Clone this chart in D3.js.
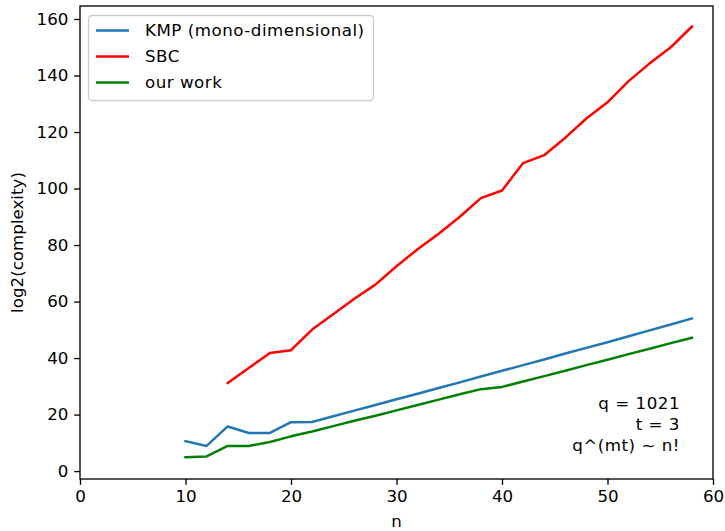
<!DOCTYPE html>
<html>
  <head>
    <meta charset="utf-8" />
    <title>log2 complexity</title>
    <script src="https://d3js.org/d3.v7.min.js"></script>
    <style>
      body { margin: 0; background: #fff; }
      svg { font-family: "DejaVu Sans", sans-serif; }
    </style>
  </head>
  <body>
    <div id="chart"></div>

    <script>
      // Data
      const kmpN = [10, 12, 14, 16, 18, 20, 22, 24, 26, 28, 30, 32, 34, 36, 38, 40, 42, 44, 46, 48, 50, 52, 54, 56, 58];
      const kmpVals = [10.6, 8.9, 15.8, 13.5, 13.5, 17.3, 17.4, 19.4, 21.4, 23.4, 25.4, 27.4, 29.4, 31.4, 33.5, 35.5, 37.5, 39.5, 41.6, 43.6, 45.6, 47.7, 49.8, 51.9, 54.0];
      const sbcN = [14, 16, 18, 20, 22, 24, 26, 28, 30, 32, 34, 36, 38, 40, 42, 44, 46, 48, 50, 52, 54, 56, 58];
      const sbcVals = [31.2, 36.5, 41.8, 42.8, 50.1, 55.5, 61.0, 66.0, 72.5, 78.5, 84.0, 90.0, 96.6, 99.3, 109.0, 111.8, 118.0, 124.8, 130.5, 138.0, 144.3, 150.0, 157.3];
      const oursN = [10, 12, 14, 16, 18, 20, 22, 24, 26, 28, 30, 32, 34, 36, 38, 40, 42, 44, 46, 48, 50, 52, 54, 56, 58];
      const oursVals = [4.9, 5.2, 8.9, 8.9, 10.3, 12.3, 14.0, 15.9, 17.8, 19.6, 21.5, 23.4, 25.3, 27.2, 29.0, 29.8, 31.7, 33.6, 35.5, 37.5, 39.4, 41.4, 43.3, 45.3, 47.2];

      const seriesNames = ["KMP (mono-dimensional)", "SBC", "our work"];
      const seriesColors = ["#1f77b4", "#ff0000", "#008000"];
      const xTicks = [0, 10, 20, 30, 40, 50, 60];
      const yTicks = [0, 20, 40, 60, 80, 100, 120, 140, 160];
      const noteLines = ["q = 1021", "t = 3", "q^(mt) ~ n!"];

      const series = [
        { name: seriesNames[0], color: seriesColors[0], pts: kmpN.map((n, i) => [n, kmpVals[i]]) },
        { name: seriesNames[1], color: seriesColors[1], pts: sbcN.map((n, i) => [n, sbcVals[i]]) },
        { name: seriesNames[2], color: seriesColors[2], pts: oursN.map((n, i) => [n, oursVals[i]]) }
      ];

      const width = 725, height = 531;
      const plotL = 80, plotR = 713, plotT = 6, plotB = 479;
      const fs = 16.7;
      const tick = 5.8;

      const svg = d3.select("#chart").append("svg")
        .attr("width", width).attr("height", height);

      const x = d3.scaleLinear().domain([0, 60]).range([plotL, plotR]);
      const y = d3.scaleLinear().domain([-2.8, 164.6]).range([plotB, plotT]);

      // Axes
      const xAxis = svg.append("g")
        .attr("transform", `translate(0,${plotB})`)
        .call(d3.axisBottom(x).tickValues(xTicks).tickSize(tick).tickSizeOuter(0).tickPadding(5.8));
      const yAxis = svg.append("g")
        .attr("transform", `translate(${plotL},0)`)
        .call(d3.axisLeft(y).tickValues(yTicks).tickSize(tick).tickSizeOuter(0).tickPadding(5.8));
      [xAxis, yAxis].forEach(g => {
        g.select(".domain").remove();
        g.selectAll("line").attr("stroke", "#000").attr("stroke-width", 1.33);
        g.selectAll("text").attr("fill", "#000").style("font-size", fs + "px")
          .style("font-family", "DejaVu Sans, sans-serif");
      });

      // Lines
      const line = d3.line().x(d => x(d[0])).y(d => y(d[1]));
      svg.append("g").selectAll("path").data(series).join("path")
        .attr("d", d => line(d.pts))
        .attr("fill", "none")
        .attr("stroke", d => d.color)
        .attr("stroke-width", 2.5)
        .attr("stroke-linejoin", "round")
        .attr("stroke-linecap", "square");

      // Frame
      svg.append("rect")
        .attr("x", plotL).attr("y", plotT)
        .attr("width", plotR - plotL).attr("height", plotB - plotT)
        .attr("fill", "none").attr("stroke", "#000").attr("stroke-width", 1.33);

      // Axis labels
      svg.append("text")
        .attr("x", (plotL + plotR) / 2).attr("y", 521).attr("dy", "0.35em")
        .attr("text-anchor", "middle").style("font-size", fs + "px").text("n");
      svg.append("text")
        .attr("transform", `translate(17,${(plotT + plotB) / 2}) rotate(-90)`)
        .attr("dy", "0.35em")
        .attr("text-anchor", "middle").style("font-size", fs + "px").text("log2(complexity)");

      // Legend
      const lg = svg.append("g");
      lg.append("rect")
        .attr("x", 88.5).attr("y", 15.5).attr("width", 285).attr("height", 85)
        .attr("rx", 3.5)
        .attr("fill", "#fff").attr("fill-opacity", 0.8)
        .attr("stroke", "#cccccc").attr("stroke-width", 1.33);
      const rows = lg.selectAll("g.row").data(series).join("g")
        .attr("class", "row")
        .attr("transform", (d, i) => `translate(0,${30.5 + i * 26})`);
      rows.append("line")
        .attr("x1", 96).attr("x2", 129)
        .attr("stroke", d => d.color).attr("stroke-width", 2.5);
      rows.append("text")
        .attr("x", 145).attr("dy", "0.35em")
        .style("font-size", fs + "px").style("letter-spacing", "0.5px")
        .text(d => d.name);

      // Annotation
      svg.append("g").selectAll("text").data(noteLines).join("text")
        .attr("x", 680).attr("y", (d, i) => 403 + i * 21).attr("dy", "0.35em")
        .attr("text-anchor", "end").style("font-size", fs + "px").style("letter-spacing", "0.5px")
        .text(d => d);
    </script>
  </body>
</html>
